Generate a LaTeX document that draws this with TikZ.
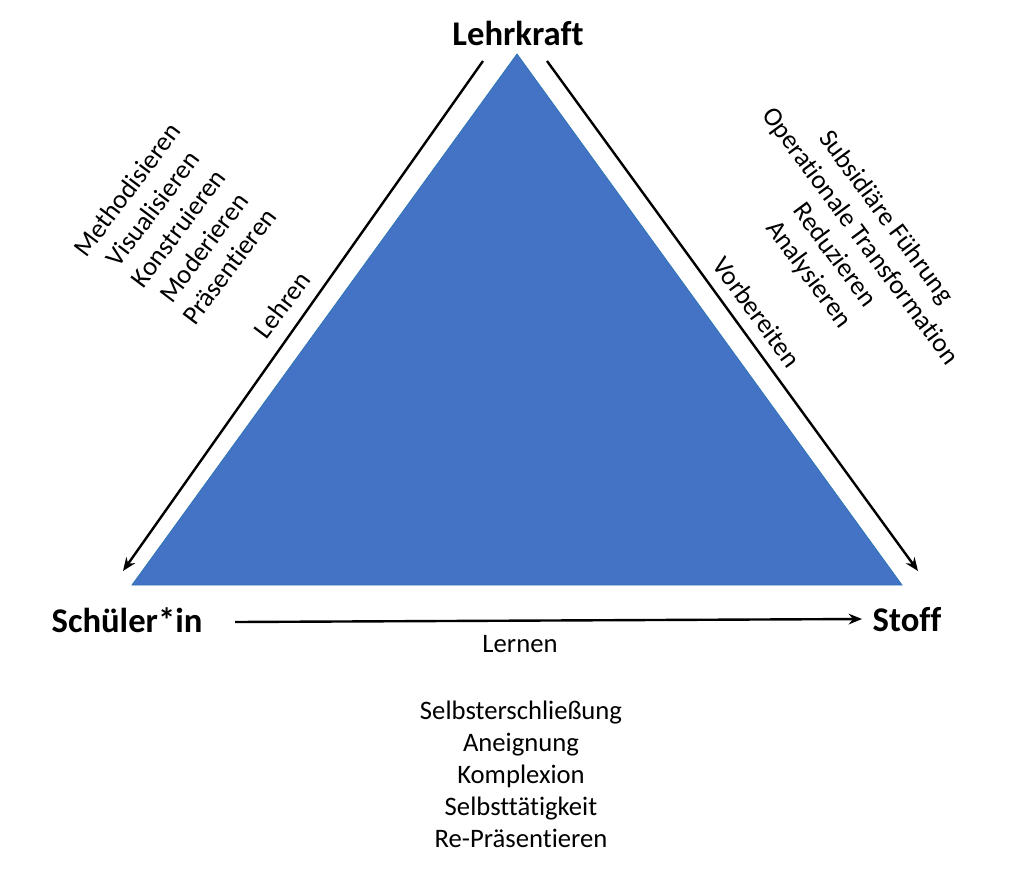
\documentclass[tikz,border=0pt]{standalone}
\usepackage{fontspec}
\setmainfont{Carlito}[RawFeature={-liga;-clig;-calt;-dlig}]
\usetikzlibrary{arrows.meta}
\definecolor{triblue}{HTML}{4472C4}
\definecolor{triedge}{HTML}{2E75B6}
\tikzset{
  corner/.style={font=\fontsize{26}{31}\selectfont\bfseries, inner sep=0pt},
  word/.style={font=\fontsize{20}{24}\selectfont, inner sep=0pt, align=center},
  conn/.style={line width=1.8pt, -{Stealth[length=10pt,width=8pt]}}
}
\begin{document}
\begin{tikzpicture}[x=0.75pt,y=-0.75pt]
\useasboundingbox (0,0) rectangle (1024,893);
% triangle
\coordinate (A) at (517,54);
\coordinate (B) at (132,585);
\coordinate (C) at (902,585);
\fill[triblue, draw=triedge, line width=0.6pt] (A) -- (B) -- (C) -- cycle;
% corner labels
\node[corner, anchor=base] (lk) at (518,45) {Lehrkraft};
\node[corner, anchor=base] (si) at (127,632) {Schüler*in};
\node[corner, anchor=base] (st) at (907,631) {Stoff};
% arrows
\coordinate (l1) at (483,61);
\coordinate (l2) at (123,571);
\coordinate (r1) at (547,61);
\coordinate (r2) at (918,571);
\coordinate (b1) at (235,622);
\coordinate (b2) at (862,619);
\draw[conn] (l1) -- (l2);
\draw[conn] (r1) -- (r2);
\draw[conn] (b1) -- (b2);
% edge labels
\node[word, rotate=53] (lehren) at (282,305) {Lehren};
\node[word, rotate=-53.5] (vorb) at (757,312) {Vorbereiten};
\node[word, anchor=base] (lernen) at (520,652) {Lernen};
% groups
\node[word, rotate=53] (lgroup) at (178,228) {Methodisieren\\Visualisieren\\Konstruieren\\Moderieren\\Präsentieren};
\node[word, rotate=-53.5] (rgroup) at (847,246) {Subsidiäre Führung\\Operationale Transformation\\Reduzieren\\Analysieren};
\node[word] (bgroup) at (521,774) {Selbsterschließung\\Aneignung\\Komplexion\\Selbsttätigkeit\\Re-Präsentieren};
\end{tikzpicture}
\end{document}
